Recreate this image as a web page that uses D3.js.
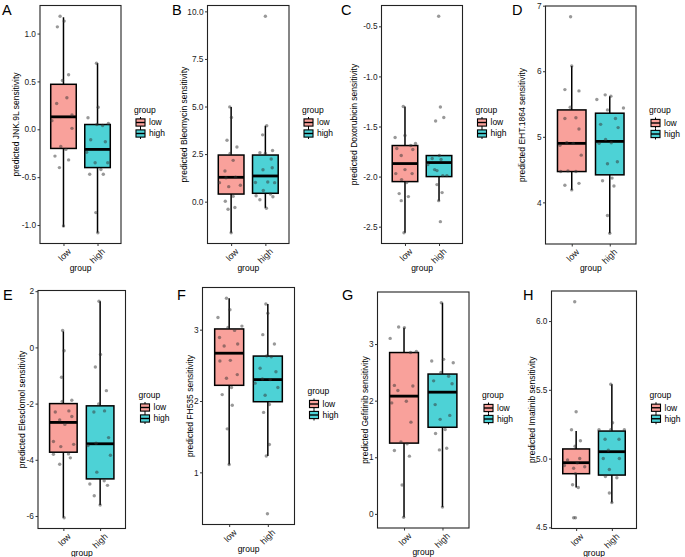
<!DOCTYPE html>
<html><head><meta charset="utf-8">
<script src="https://cdn.jsdelivr.net/npm/d3@7"></script>
<style>body{margin:0;background:#fff} text{font-family:"Liberation Sans",Arial,Helvetica,sans-serif}</style>
</head><body><svg id="c" width="685" height="557"></svg>
<script>
// ---------------- DATA ----------------
const groups = ["low", "high"];
const groupColors = ["#F9A19B", "#4DD2D6"];
const panelLetters = ["A", "B", "C", "D", "E", "F", "G", "H"];
const drugs = ["JNK.9L", "Bleomycin", "Doxorubicin", "EHT.1864", "Elesclomol", "FH535", "Gefitinib", "Imatinib"];
const yTickValues = [
  [-1, -0.5, 0, 0.5, 1],
  [0, 2.5, 5, 7.5, 10],
  [-2.5, -2, -1.5, -1, -0.5],
  [4, 5, 6, 7],
  [-6, -4, -2, 0, 2],
  [1, 2, 3],
  [0, 1, 2, 3],
  [4.5, 5, 5.5, 6]
];
const yTickFormats = [".1f", ".1f", ".1f", "d", "d", "d", "d", ".1f"];
// box stats: [lower whisker, Q1, median, Q3, upper whisker]
const boxLow = [
  [-1.02, -0.20, 0.13, 0.47, 1.17],
  [-1.63, 0.40, 1.28, 2.45, 4.98],
  [-2.56, -2.05, -1.87, -1.69, -1.30],
  [4.19, 4.47, 4.90, 5.41, 6.08],
  [-6.06, -3.73, -2.67, -2.00, 0.57],
  [1.11, 2.22, 2.67, 3.01, 3.44],
  [-0.06, 1.25, 2.08, 2.85, 3.29],
  [4.79, 4.89, 4.97, 5.07, 5.20]
];
const boxHigh = [
  [-1.08, -0.40, -0.21, 0.05, 0.69],
  [-0.33, 0.44, 1.35, 2.45, 3.99],
  [-2.24, -2.00, -1.86, -1.79, -1.79],
  [3.53, 4.42, 4.93, 5.36, 5.62],
  [-5.61, -4.68, -3.43, -2.08, 1.64],
  [1.23, 1.99, 2.30, 2.63, 3.36],
  [0.12, 1.53, 2.15, 2.47, 3.73],
  [4.68, 4.88, 5.05, 5.20, 5.54]
];
// sample points: [value, jitter (category units)]
const pointsLow = [
  [[1.18,-0.10],[1.07,-0.18],[1.13,0.02],[0.57,0.15],[0.51,-0.03],[0.27,-0.20],[0.33,0.10],[0.09,-0.34],[0.15,0.25],[0.01,0.25],[-0.18,-0.08],[-0.21,0.07],[-0.28,-0.25],[-0.32,0.15],[-0.40,-0.12],[-1.01,0]],
  [[4.98,-0.04],[4.42,0.01],[3.23,-0.12],[2.87,0.17],[2.53,-0.03],[2.17,0.06],[1.61,-0.18],[1.00,-0.34],[1.26,-0.15],[0.79,-0.07],[0.86,0.27],[1.28,0.13],[0.28,0.06],[0.02,-0.17],[-0.31,0.11],[-0.40,-0.09],[-1.63,0]],
  [[-1.30,-0.05],[-1.61,-0.29],[-1.59,0],[-1.72,-0.24],[-1.69,0.17],[-1.67,0.31],[-1.73,0.23],[-1.79,-0.11],[-1.97,-0.27],[-1.93,0],[-1.97,0.21],[-2.03,-0.10],[-2.06,0.05],[-2.17,-0.17],[-2.24,-0.11],[-2.20,0.10],[-2.56,-0.03]],
  [[6.83,-0.03],[6.08,0],[5.72,-0.18],[5.70,0.19],[5.45,-0.04],[5.28,-0.18],[5.29,0.11],[5.12,0.19],[4.91,-0.13],[4.90,0.04],[4.72,0.25],[4.87,-0.31],[4.47,-0.29],[4.48,-0.10],[4.47,0.11],[4.26,-0.18],[4.29,0.19],[4.19,0]],
  [[0.60,-0.02],[-0.12,0.02],[-1.06,-0.05],[-1.92,-0.03],[-1.88,0.23],[-2.30,-0.22],[-2.26,0.15],[-2.58,-0.10],[-2.46,0.23],[-2.74,0.04],[-3.35,-0.27],[-3.53,-0.07],[-3.45,0.28],[-3.80,-0.27],[-3.79,0.14],[-3.93,0.19],[-4.16,-0.10],[-6.06,0.02]],
  [[3.44,-0.07],[3.28,0.02],[3.17,-0.29],[3.03,-0.03],[3.05,0.33],[2.99,0.14],[2.89,-0.25],[2.77,-0.13],[2.80,0.22],[2.56,-0.24],[2.57,0.03],[2.32,-0.07],[2.37,0.21],[2.19,0.06],[2.09,-0.18],[1.94,0.08],[1.61,-0.05],[1.11,0]],
  [[3.29,0.01],[3.30,-0.14],[3.10,-0.36],[2.85,0.17],[2.87,0.32],[2.27,-0.25],[2.18,-0.16],[2.26,0.23],[1.96,-0.32],[1.99,0.06],[1.62,0.18],[1.27,-0.08],[1.24,0.08],[1.12,-0.25],[1.02,0.14],[0.51,-0.05],[-0.06,-0.01]],
  [[6.14,-0.04],[5.34,0],[5.21,-0.13],[5.13,0.12],[5.09,-0.03],[4.99,-0.24],[5.00,0.10],[4.93,-0.07],[4.95,-0.33],[4.94,0.24],[4.97,0.03],[4.81,-0.10],[4.79,0.06],[4.89,-0.02],[4.57,-0.07],[4.57,-0.02]]
];
const pointsHigh = [
  [[0.69,-0.03],[0.23,0.02],[0.12,-0.28],[0.05,-0.02],[0.04,0.15],[0.06,0.32],[-0.11,-0.20],[-0.13,0.23],[-0.24,-0.32],[-0.35,-0.07],[-0.35,0.30],[-0.42,0.10],[-0.47,-0.23],[-0.47,0.17],[-0.87,-0.05],[-1.08,0.01]],
  [[9.74,0],[3.99,0.04],[3.51,-0.08],[2.53,0],[2.69,0.21],[2.57,-0.16],[2.24,0.17],[1.68,-0.07],[1.78,0.20],[1.01,-0.29],[1.03,0.07],[1.00,0.27],[0.59,-0.06],[0.31,-0.27],[0.10,-0.16],[0.40,0.15],[0.26,0.22],[-0.35,0.03]],
  [[-0.40,-0.01],[-1.445,-0.10],[-1.306,0.04],[-1.41,0.14],[-1.79,0.01],[-1.82,-0.20],[-1.83,0.06],[-1.88,-0.33],[-1.93,-0.13],[-1.94,-0.06],[-1.99,0.23],[-1.99,0.11],[-2.08,-0.06],[-2.16,0.09],[-2.24,-0.01],[-2.45,0.04]],
  [[5.57,-0.34],[5.64,-0.12],[5.62,0.03],[5.44,0.36],[5.41,-0.06],[5.28,0.15],[5.19,-0.24],[5.14,0.22],[4.96,-0.11],[4.90,-0.28],[4.91,0.04],[4.59,-0.06],[4.62,0.20],[4.33,-0.19],[4.37,0.06],[4.25,0.11],[3.80,-0.06],[3.53,0]],
  [[1.64,-0.03],[-0.25,0.01],[-0.70,-0.13],[-1.54,0.17],[-2.01,-0.04],[-2.30,-0.17],[-2.26,0.12],[-3.49,-0.33],[-3.41,-0.11],[-3.21,0.23],[-3.84,0.28],[-4.44,-0.09],[-4.75,0.11],[-4.91,0.20],[-4.86,-0.28],[-5.28,-0.16],[-5.61,0]],
  [[3.36,-0.05],[3.23,0],[2.93,-0.13],[2.80,0.17],[2.63,-0.03],[2.62,0.09],[2.46,-0.20],[2.41,0.21],[2.25,-0.33],[2.31,-0.14],[2.30,0.06],[2.19,0.26],[2.08,-0.07],[1.95,0.04],[1.84,-0.11],[1.39,0.04],[1.23,-0.04],[0.42,-0.01]],
  [[3.73,-0.03],[2.73,0.03],[2.70,-0.28],[2.67,0.28],[2.50,-0.04],[2.43,0.16],[2.35,-0.23],[2.30,0.25],[1.93,-0.19],[1.67,-0.06],[1.74,0.19],[1.49,0.07],[1.42,-0.18],[1.13,-0.08],[1.16,0.11],[0.12,0]],
  [[5.54,-0.03],[5.21,-0.36],[5.21,-0.03],[5.21,0.35],[5.26,0.02],[5.14,-0.19],[5.14,0.20],[5.06,-0.10],[5.00,-0.24],[5.00,0.21],[4.92,-0.07],[4.87,-0.18],[4.86,0.14],[4.75,-0.07],[4.68,0]]
];

// ---------------- LAYOUT ----------------
const frames = [
  [40, 5.5, 121, 243.5], [207.5, 5.5, 289, 243.5], [381.5, 5.5, 462.5, 243.5], [545.5, 6, 636, 244],
  [38, 290.5, 125.5, 528.5], [202.5, 287.5, 294.5, 524.5], [377.5, 292, 469, 528], [551.5, 291, 636.5, 528.5]
];
const letterPos = [[2, 15], [172, 15], [341, 15], [512, 15], [3, 300], [177, 300], [342, 300], [523, 300]];
const yTitleX = [16, 184, 354, 522, 22, 190, 365, 532];

const svg = d3.select("#c");
const fmtMinus = f => v => d3.format(f)(v).replace("\u2212", "-");
const FONT = '"Liberation Sans",Arial,sans-serif';

frames.forEach((fr, i) => {
  const [L, T, R, B] = fr;
  const g = svg.append("g");
  const lo = pointsLow[i], hi = pointsHigh[i];
  const allVals = lo.map(d => d[0]).concat(hi.map(d => d[0]), boxLow[i], boxHigh[i]);
  const [mn, mx] = d3.extent(allVals);
  const pad = (mx - mn) * 0.05;
  const y = d3.scaleLinear().domain([mn - pad, mx + pad]).range([B, T]);
  const x = d3.scalePoint().domain(groups).range([L, R]).padding(0.69);
  const step = x.step();
  const bw = step * 0.75;

  g.append("rect").attr("x", L).attr("y", T).attr("width", R - L).attr("height", B - T)
    .attr("fill", "#fff");

  // boxplots
  [boxLow[i], boxHigh[i]].forEach((st, k) => {
    const cx = x(groups[k]);
    const bg = g.append("g");
    bg.append("line").attr("x1", cx).attr("x2", cx).attr("y1", y(st[0])).attr("y2", y(st[1]))
      .attr("stroke", "#000").attr("stroke-width", 1.5);
    bg.append("line").attr("x1", cx).attr("x2", cx).attr("y1", y(st[3])).attr("y2", y(st[4]))
      .attr("stroke", "#000").attr("stroke-width", 1.5);
    bg.append("rect").attr("x", cx - bw / 2).attr("width", bw)
      .attr("y", y(st[3])).attr("height", y(st[1]) - y(st[3]))
      .attr("fill", groupColors[k]).attr("stroke", "#000").attr("stroke-width", 1.5);
    bg.append("line").attr("x1", cx - bw / 2).attr("x2", cx + bw / 2).attr("y1", y(st[2])).attr("y2", y(st[2]))
      .attr("stroke", "#000").attr("stroke-width", 2.8);
  });

  // jittered points
  [lo, hi].forEach((pts, k) => {
    g.selectAll(null).data(pts).enter().append("circle")
      .attr("cx", d => x(groups[k]) + d[1] * step)
      .attr("cy", d => y(d[0]))
      .attr("r", 1.7)
      .attr("fill", "#333").attr("fill-opacity", 0.5);
  });

  g.append("rect").attr("x", L).attr("y", T).attr("width", R - L).attr("height", B - T)
    .attr("fill", "none").attr("stroke", "#222").attr("stroke-width", 1.1);

  // y axis
  const ya = g.append("g").attr("transform", `translate(${L},0)`)
    .call(d3.axisLeft(y).tickValues(yTickValues[i]).tickFormat(fmtMinus(yTickFormats[i])).tickSize(2.5).tickPadding(1.5));
  ya.select(".domain").remove();
  ya.selectAll(".tick line").attr("stroke", "#333");
  ya.selectAll(".tick text").attr("fill", "#222").style("font-size", "8.3px").style("font-family", FONT);

  // x axis (rotated labels)
  const xa = g.append("g").attr("transform", `translate(0,${B})`)
    .call(d3.axisBottom(x).tickSize(2.5).tickFormat(() => ""));
  xa.select(".domain").remove();
  xa.selectAll(".tick line").attr("stroke", "#333");
  xa.selectAll(".tick text").remove();
  groups.forEach(gr => {
    g.append("g")
      .attr("transform", `translate(${x(gr) + 3.5},${B + 4}) rotate(-45)`)
      .append("text")
      .attr("x", 0).attr("y", 0).attr("dy", "0.72em")
      .attr("text-anchor", "end")
      .attr("fill", "#222").style("font-size", "9px").style("font-family", FONT)
      .text(gr);
  });

  // axis titles
  g.append("text").attr("x", (L + R) / 2).attr("y", B + 27).attr("text-anchor", "middle")
    .style("font-size", "8.5px").attr("fill", "#000").text("group");
  g.append("text").attr("transform", `translate(${yTitleX[i]},${(T + B) / 2}) rotate(-90)`)
    .attr("text-anchor", "middle").attr("dy", "0.35em")
    .style("font-size", "8.5px").attr("fill", "#000").text(`predicted ${drugs[i]} sensitivity`);

  // panel letter
  g.append("text").attr("x", letterPos[i][0]).attr("y", letterPos[i][1])
    .style("font-size", "14.5px").attr("fill", "#000").text(panelLetters[i]);

  // legend
  const cy = (T + B) / 2;
  const lg = g.append("g").attr("transform", `translate(${R + 13},${cy})`);
  lg.append("text").attr("x", 0).attr("y", -12).style("font-size", "8.5px").text("group");
  groups.forEach((gr, k) => {
    const ky = -2 + k * 11;
    const kx = 2;
    lg.append("line").attr("x1", kx + 4.5).attr("x2", kx + 4.5).attr("y1", ky - 5.5).attr("y2", ky + 5.5)
      .attr("stroke", "#000").attr("stroke-width", 1);
    lg.append("rect").attr("x", kx).attr("y", ky - 3.6).attr("width", 9).attr("height", 7.2)
      .attr("fill", groupColors[k]).attr("stroke", "#000").attr("stroke-width", 1.1);
    lg.append("line").attr("x1", kx).attr("x2", kx + 9).attr("y1", ky).attr("y2", ky)
      .attr("stroke", "#000").attr("stroke-width", 1.4);
    lg.append("text").attr("x", kx + 13).attr("y", ky).attr("dy", "0.35em")
      .style("font-size", "8.5px").text(gr);
  });
});
</script></body></html>
